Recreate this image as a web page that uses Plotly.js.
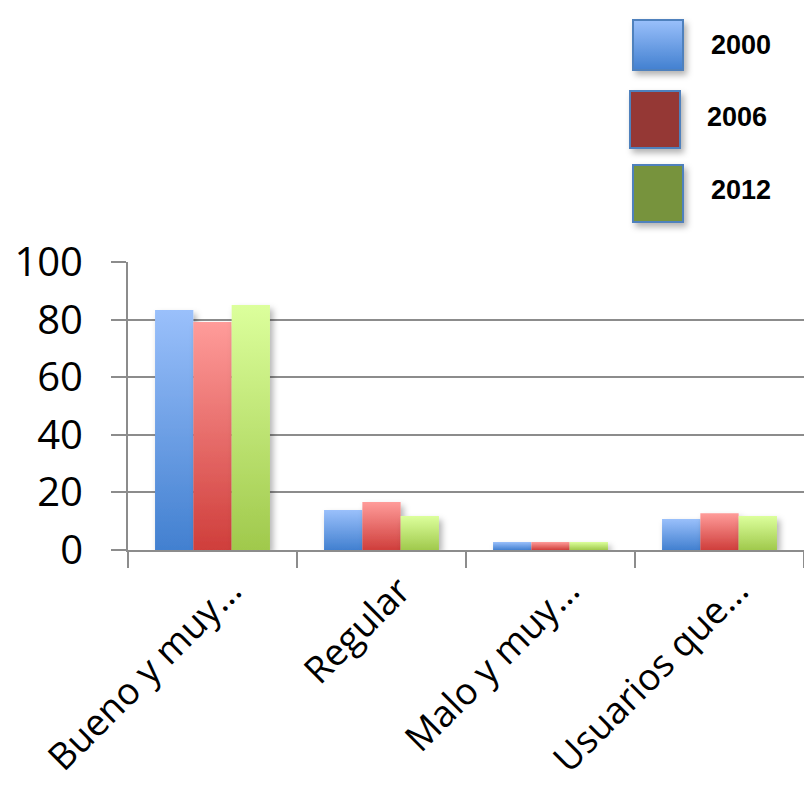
<!DOCTYPE html>
<html>
<head>
<meta charset="utf-8">
<script src="https://cdn.plot.ly/plotly-3.0.1.min.js"></script>
<style>
  html, body { margin: 0; padding: 0; background: #fff; }
  #chart { width: 804px; height: 790px; }
</style>
</head>
<body>
<div id="chart"></div>
<script>
// Opinion of the service, by survey year (percent)
const categories = ['Bueno y muy…', 'Regular', 'Malo y muy…', 'Usuarios que…'];
const years = ['2000', '2006', '2012'];
const values2000 = [83.3, 13.9, 2.8, 10.8];
const values2006 = [79.2, 16.7, 2.8, 12.8];
const values2012 = [85.1, 11.8, 2.8, 11.8];
const yTicks = [0, 20, 40, 60, 80, 100];

// top / bottom gradient stops for each series' bars
const barGradients = [
  ['#9ac0fb', '#4280d0'],
  ['#ff9c9a', '#cf3e3b'],
  ['#dcff9c', '#a0c94c']
];
// legend swatch fills
const swatchFills = ['#4a86d3', '#953735', '#77933c'];

const seriesValues = [values2000, values2006, values2012];

const traces = seriesValues.map((vals, i) => ({
  type: 'bar',
  name: years[i],
  x: categories,
  y: vals,
  marker: { color: barGradients[i][1], line: { width: 0 } },
  hoverinfo: 'none'
}));

// hand-built legend: swatches in paper coordinates plus bold labels
const plotL = 128, plotR = 804, plotT = 262, plotB = 550;
const px = v => (v - plotL) / (plotR - plotL);
const py = v => (plotB - v) / (plotB - plotT);
const swatchBoxes = [
  [633, 20, 683, 70],
  [630, 91, 680, 148],
  [633, 165, 683, 222]
];
const labelPos = [[741, 45], [737, 117], [741, 190]];

const shapes = swatchBoxes.map((b, i) => ({
  type: 'rect', xref: 'paper', yref: 'paper',
  x0: px(b[0]), x1: px(b[2]), y0: py(b[3]), y1: py(b[1]),
  fillcolor: swatchFills[i],
  line: { color: '#4f81bd', width: 2 },
  layer: 'above'
}));
const annotations = years.map((t, i) => ({
  text: '<b>' + t + '</b>', xref: 'paper', yref: 'paper',
  x: px(labelPos[i][0]), y: py(labelPos[i][1]),
  xanchor: 'center', yanchor: 'middle', showarrow: false,
  font: { family: 'Liberation Sans, Arial, sans-serif', size: 27, color: '#000' }
}));

const layout = {
  width: 804, height: 790,
  margin: { l: plotL, r: 804 - plotR, t: plotT, b: 790 - plotB },
  paper_bgcolor: '#fff', plot_bgcolor: '#fff',
  showlegend: false,
  barmode: 'group',
  bargap: 0.32,
  bargroupgap: 0,
  font: { family: 'Open Sans, sans-serif', color: '#000' },
  xaxis: {
    type: 'category',
    showline: true, linecolor: '#8c8c8c', linewidth: 2,
    ticks: 'outside', tickson: 'boundaries', ticklen: 16, tickwidth: 2, tickcolor: '#8c8c8c',
    tickangle: -45,
    tickfont: { family: 'Open Sans, sans-serif', size: 37, color: '#000' },
    ticklabelshift: 18,
    ticklabelstandoff: 2,
    showgrid: false, zeroline: false
  },
  yaxis: {
    range: [0, 100],
    tickvals: yTicks,
    ticktext: yTicks.map(String),
    showline: true, linecolor: '#8c8c8c', linewidth: 2,
    ticks: 'outside', ticklen: 15, tickwidth: 2, tickcolor: '#8c8c8c',
    showgrid: true, gridcolor: '#8c8c8c', gridwidth: 2,
    zeroline: false,
    tickfont: { family: 'Open Sans, sans-serif', size: 40, color: '#000' },
    ticklabelstandoff: 20
  },
  shapes: shapes,
  annotations: annotations
};

Plotly.newPlot('chart', traces, layout, { staticPlot: true }).then(gd => {
  const NS = 'http://www.w3.org/2000/svg';
  const svg = gd.querySelector('svg.main-svg');
  let defs = svg.querySelector('defs');
  if (!defs) { defs = document.createElementNS(NS, 'defs'); svg.insertBefore(defs, svg.firstChild); }

  function addGradient(id, top, bottom) {
    const g = document.createElementNS(NS, 'linearGradient');
    g.setAttribute('id', id);
    g.setAttribute('x1', '0'); g.setAttribute('y1', '0');
    g.setAttribute('x2', '0'); g.setAttribute('y2', '1');
    [[0, top], [1, bottom]].forEach(([o, c]) => {
      const s = document.createElementNS(NS, 'stop');
      s.setAttribute('offset', o);
      s.setAttribute('stop-color', c);
      g.appendChild(s);
    });
    defs.appendChild(g);
  }
  barGradients.forEach((g, i) => addGradient('barGrad' + i, g[0], g[1]));

  // soft drop shadow under bars and swatches
  const f = document.createElementNS(NS, 'filter');
  f.setAttribute('id', 'softShadow');
  f.setAttribute('x', '-20%'); f.setAttribute('y', '-20%');
  f.setAttribute('width', '150%'); f.setAttribute('height', '150%');
  const ds = document.createElementNS(NS, 'feDropShadow');
  ds.setAttribute('dx', '3'); ds.setAttribute('dy', '4');
  ds.setAttribute('stdDeviation', '3');
  ds.setAttribute('flood-color', '#000');
  ds.setAttribute('flood-opacity', '0.3');
  f.appendChild(ds);
  defs.appendChild(f);

  const barTraces = gd.querySelectorAll('.barlayer .trace');
  barTraces.forEach((tr, i) => {
    tr.querySelectorAll('path').forEach(p => {
      p.style.fill = 'url(#barGrad' + i + ')';
      p.setAttribute('filter', 'url(#softShadow)');
    });
  });

  const swatchPaths = gd.querySelectorAll('.shapelayer path');
  swatchPaths.forEach((p, i) => {
    if (i === 0) p.style.fill = 'url(#barGrad0)';
    p.style.fillOpacity = 1;
    p.setAttribute('filter', 'url(#softShadow)');
  });
});
</script>
</body>
</html>
